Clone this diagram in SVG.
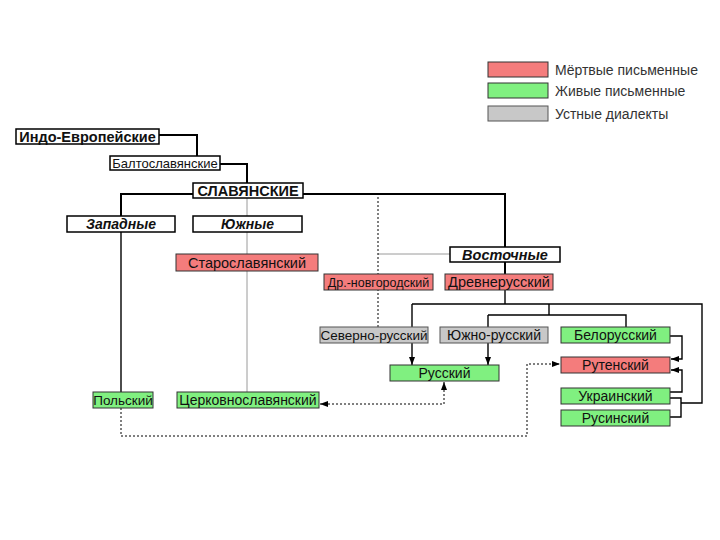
<svg xmlns="http://www.w3.org/2000/svg" width="720" height="540" viewBox="0 0 720 540">
<defs>
<marker id="ah" viewBox="0 0 8 6" refX="8" refY="3" markerWidth="8" markerHeight="6" markerUnits="userSpaceOnUse" orient="auto-start-reverse">
<path d="M0,0 L8,3 L0,6 z" fill="#000"/>
</marker>
<style>
.b{fill:#fff;stroke:#000;stroke-width:1.5}
.r{fill:#f47c7c;stroke:#333;stroke-width:1}
.g{fill:#80f080;stroke:#333;stroke-width:1}
.y{fill:#c8c8c8;stroke:#555;stroke-width:1}
text{font-family:"Liberation Sans",Arial,sans-serif;fill:#111;text-anchor:middle;font-size:13.5px}
.hb{font-weight:bold}
.hi{font-weight:bold;font-style:italic;font-size:14px}
.lg{text-anchor:start;fill:#333;font-size:14px}
.k{fill:none;stroke:#000;stroke-width:2}
.t{fill:none;stroke:#000;stroke-width:1.4}
.gr{fill:none;stroke:#9a9a9a;stroke-width:1}
.d{fill:none;stroke:#000;stroke-width:1;stroke-dasharray:2,2}
</style>
</defs>
<rect width="720" height="540" fill="#fff"/>
<g id="legend">
<rect class="r" x="488" y="62" width="60" height="15"/>
<text class="lg" x="555" y="74.5">Мёртвые письменные</text>
<rect class="g" x="488" y="83" width="60" height="15"/>
<text class="lg" x="555" y="95.5">Живые письменные</text>
<rect class="y" x="488" y="106" width="60" height="15"/>
<text class="lg" x="555" y="118.5">Устные диалекты</text>
</g>
<g id="connectors">
<path class="gr" d="M247,198 V392"/>
<path class="gr" d="M378,254 H450"/>
<path class="d" d="M378,193 V327"/>
<path class="k" d="M159,135 H197 V157"/>
<path class="k" d="M220,164 H247 V183"/>
<path class="k" d="M193,194 H121 V216"/>
<path class="t" d="M121,232 V392"/>
<path class="k" d="M303,194 H505 V247"/>
<path class="k" d="M505,262 V274"/>
<path class="t" d="M505,290 V304"/>
<path class="t" d="M412,304 H702 V403 H681"/>
<path class="t" d="M549,304 V315"/>
<path class="t" d="M488,315 H626 V327"/>
<path class="t" d="M488,315 V327"/>
<path class="t" d="M412,304 V365" marker-end="url(#ah)"/>
<path class="t" d="M488,343 V365" marker-end="url(#ah)"/>
<path class="t" d="M670,336 H682 V359 H671" marker-end="url(#ah)"/>
<path class="t" d="M670,392 H682 V370 H671" marker-end="url(#ah)"/>
<path class="t" d="M670,398 H681 V417 H670"/>
<path class="d" d="M444,382 V404 H320" marker-start="url(#ah)" marker-end="url(#ah)"/>
<path class="d" d="M121,408 V436 H527 V364 H560" marker-end="url(#ah)"/>
</g>
<g id="n-ie"><rect class="b" x="16" y="129" width="143" height="15"/><text class="hb" x="87.5" y="141.5" style="font-size:14.5px">Индо-Европейские</text></g>
<g id="n-balt"><rect class="b" x="110" y="156" width="110" height="14"/><text x="165" y="167.5" style="font-size:13px">Балтославянские</text></g>
<g id="n-slav"><rect class="b" x="193" y="183" width="110" height="15"/><text class="hb" x="248" y="195.5" style="font-size:14.5px">СЛАВЯНСКИЕ</text></g>
<g id="n-zap"><rect class="b" x="67" y="216" width="108" height="16"/><text class="hi" x="121" y="229">Западные</text></g>
<g id="n-yuzh"><rect class="b" x="193" y="216" width="109" height="16"/><text class="hi" x="247.5" y="229">Южные</text></g>
<g id="n-vost"><rect class="b" x="450" y="247" width="110" height="15"/><text class="hi" x="505" y="260" style="font-size:14.5px">Восточные</text></g>
<g id="n-staro"><rect class="r" x="176" y="254" width="142" height="17"/><text x="247" y="267.5" style="font-size:14.5px">Старославянский</text></g>
<g id="n-novg"><rect class="r" x="324" y="274" width="109" height="16"/><text x="378.5" y="286.5" style="font-size:12.5px">Др.-новгородский</text></g>
<g id="n-drevn"><rect class="r" x="445" y="274" width="108" height="16"/><text x="499" y="287" style="font-size:14.5px">Древнерусский</text></g>
<g id="n-sev"><rect class="y" x="320" y="327" width="108" height="16"/><text x="374" y="339.5">Северно-русский</text></g>
<g id="n-yuzhr"><rect class="y" x="440" y="327" width="108" height="16"/><text x="494" y="339.5" style="font-size:14px">Южно-русский</text></g>
<g id="n-bel"><rect class="g" x="561" y="327" width="109" height="16"/><text x="615.5" y="339.5" style="font-size:14px">Белорусский</text></g>
<g id="n-russ"><rect class="g" x="390" y="365" width="109" height="16"/><text x="444.5" y="377.5" style="font-size:14px">Русский</text></g>
<g id="n-rut"><rect class="r" x="561" y="357" width="109" height="16"/><text x="615.5" y="369.5" style="font-size:14px">Рутенский</text></g>
<g id="n-ukr"><rect class="g" x="561" y="388" width="109" height="16"/><text x="615.5" y="400.5" style="font-size:14px">Украинский</text></g>
<g id="n-rusin"><rect class="g" x="561" y="410" width="109" height="16"/><text x="615.5" y="422.5" style="font-size:14px">Русинский</text></g>
<g id="n-pol"><rect class="g" x="93" y="392" width="60" height="16"/><text x="123" y="404.5">Польский</text></g>
<g id="n-church"><rect class="g" x="177" y="392" width="142" height="16"/><text x="248" y="404.5" style="font-size:14px">Церковнославянский</text></g>
</svg>
